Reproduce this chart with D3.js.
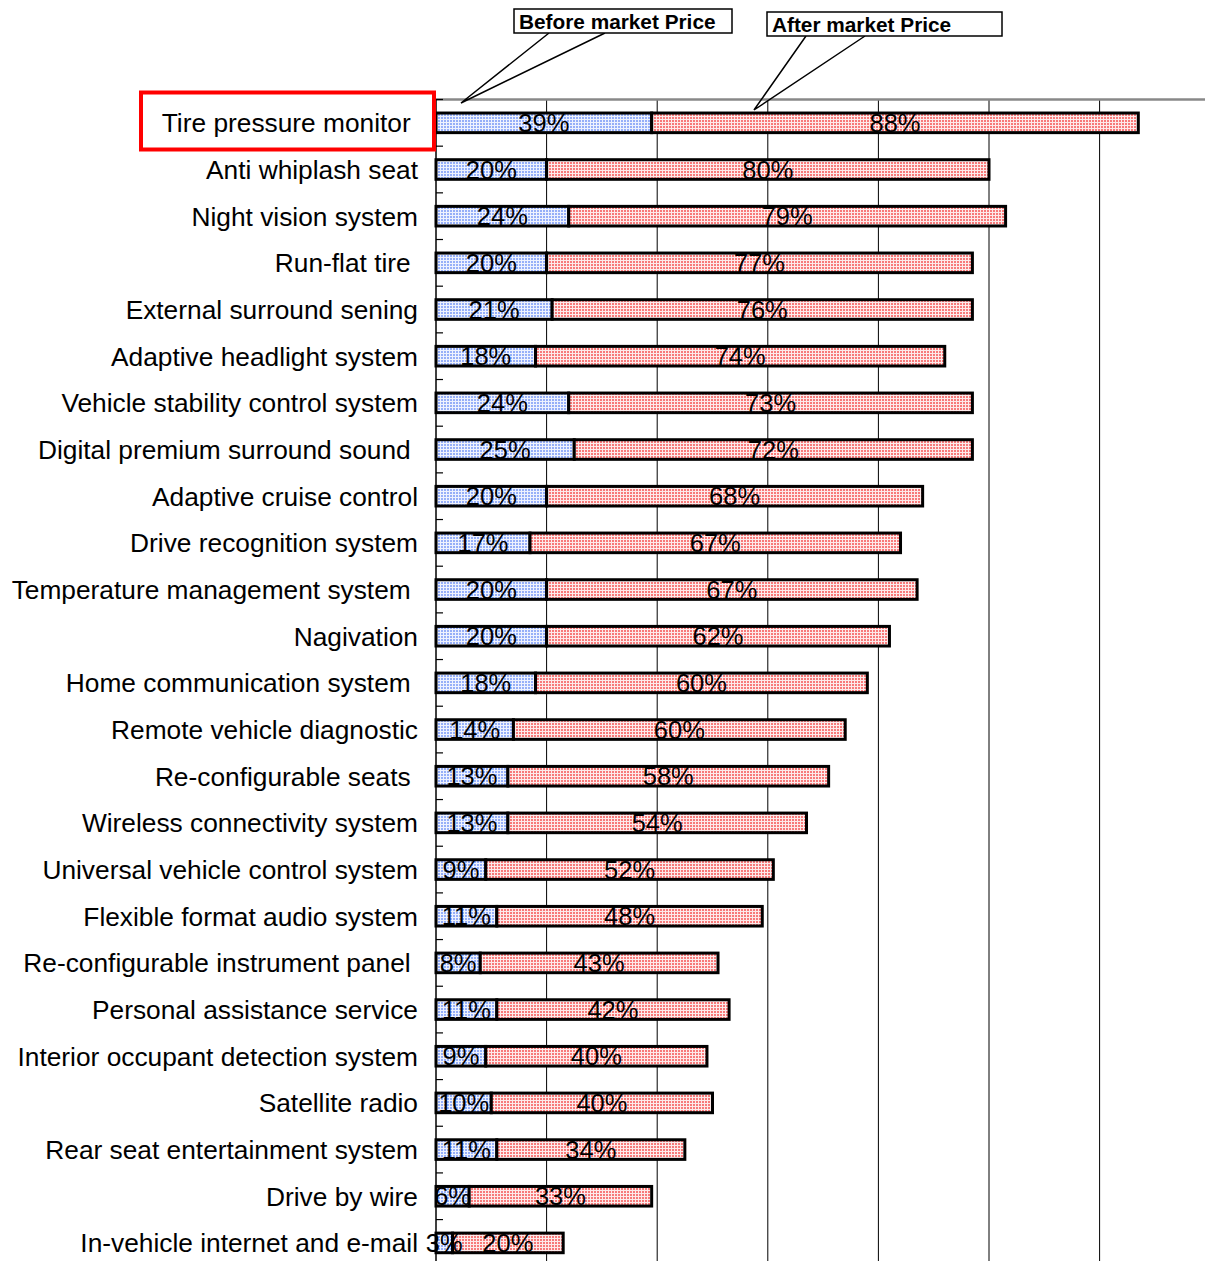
<!DOCTYPE html>
<html>
<head>
<meta charset="utf-8">
<script src="https://cdn.jsdelivr.net/npm/d3@7"></script>
<style>
  html, body { margin: 0; padding: 0; background: #fff; }
  #chart { width: 1205px; height: 1261px; overflow: hidden; }
  text { font-family: Arial, "Liberation Sans", sans-serif; }
</style>
</head>
<body>
<div id="chart"></div>
<script>
const categories = [
  'Tire pressure monitor ', 'Anti whiplash seat', 'Night vision system', 'Run-flat tire ',
  'External surround sening', 'Adaptive headlight system', 'Vehicle stability control system',
  'Digital premium surround sound ', 'Adaptive cruise control', 'Drive recognition system',
  'Temperature management system ', 'Nagivation', 'Home communication system ',
  'Remote vehicle diagnostic', 'Re-configurable seats ', 'Wireless connectivity system',
  'Universal vehicle control system', 'Flexible format audio system',
  'Re-configurable instrument panel ', 'Personal assistance service',
  'Interior occupant detection system', 'Satellite radio', 'Rear seat entertainment system',
  'Drive by wire', 'In-vehicle internet and e-mail'
];
const beforePrice = [39, 20, 24, 20, 21, 18, 24, 25, 20, 17, 20, 20, 18, 14, 13, 13, 9, 11, 8, 11, 9, 10, 11, 6, 3];
const afterPrice  = [88, 80, 79, 77, 76, 74, 73, 72, 68, 67, 67, 62, 60, 60, 58, 54, 52, 48, 43, 42, 40, 40, 34, 33, 20];
const gridTicks = [20, 40, 60, 80, 100, 120, 140];
const seriesNames = ['Before market Price', 'After market Price'];

const chart = {};

chart.create = function(config){
  this.config = config;
  this.config.margin = {top: 99.5, left: 436};
  this.config.width_svg = 1205;
  this.config.height_svg = 1261;
  this.config.rowStep = 46.67;
  this.config.colorRule = {
    before: {bg: '#eef2fe', dot: '#96aff8'},
    after:  {bg: '#fdeaea', dot: '#f77a7a'}
  };
  this.config.svg = d3.select(`#${this.config.target}`)
                      .append('svg')
                      .attr('width', this.config.width_svg)
                      .attr('height', this.config.height_svg);
  this.update();
}

chart.update = function(){
  let margin = this.config.margin,
      width_svg = this.config.width_svg,
      height_svg = this.config.height_svg,
      colorRule = this.config.colorRule,
      svg = this.config.svg;

  // dotted fills, like the old office chart
  let defs = svg.append('defs');
  Object.keys(colorRule).forEach(k => {
    let p = defs.append('pattern')
                .attr('id', `pat_${k}`)
                .attr('width', 3).attr('height', 3)
                .attr('patternUnits', 'userSpaceOnUse');
    p.append('rect').attr('width', 3).attr('height', 3).attr('fill', colorRule[k].bg);
    p.append('rect').attr('width', 2).attr('height', 2)
     .attr('shape-rendering', 'crispEdges').attr('fill', colorRule[k].dot);
  });

  let xScale = d3.scaleLinear()
                .domain([0, 140])
                .range([margin.left, margin.left + 140 * 5.53]);
  let yScale = d3.scaleBand()
                .domain(categories)
                .range([margin.top, margin.top + categories.length * this.config.rowStep])
                .paddingInner(0.58)
                .paddingOuter(0.29);

  // grid lines
  svg.append('g')
    .attr('id', 'g_grid')
    .selectAll('line')
    .data(gridTicks)
    .enter().append('line')
      .attr('x1', d => xScale(d)).attr('x2', d => xScale(d))
      .attr('y1', margin.top).attr('y2', height_svg)
      .attr('stroke', '#000').attr('stroke-width', 1);

  // top line
  svg.append('line')
    .attr('x1', margin.left).attr('x2', width_svg + 10)
    .attr('y1', margin.top).attr('y2', margin.top)
    .attr('stroke', '#888').attr('stroke-width', 2.5);

  let rows = categories.map((c, i) => ({name: c, before: beforePrice[i], after: afterPrice[i]}));

  let bars = svg.append('g').attr('id', 'g_bars');
  bars.selectAll('rect.before')
    .data(rows)
    .enter().append('rect')
      .attr('class', 'before')
      .attr('x', xScale(0))
      .attr('y', d => yScale(d.name))
      .attr('width', d => xScale(d.before) - xScale(0))
      .attr('height', yScale.bandwidth())
      .attr('fill', 'url(#pat_before)')
      .attr('stroke', '#000').attr('stroke-width', 3);
  bars.selectAll('rect.after')
    .data(rows)
    .enter().append('rect')
      .attr('class', 'after')
      .attr('x', d => xScale(d.before))
      .attr('y', d => yScale(d.name))
      .attr('width', d => xScale(d.before + d.after) - xScale(d.before))
      .attr('height', yScale.bandwidth())
      .attr('fill', 'url(#pat_after)')
      .attr('stroke', '#000').attr('stroke-width', 3);

  // y axis
  let yAxis = g => g.attr('transform', `translate(${margin.left}, 0)`)
                  .call(g => g.append('line')
                              .attr('y1', margin.top).attr('y2', height_svg)
                              .attr('stroke', '#000').attr('stroke-width', 1.5))
                  .call(g => g.selectAll('line.tick')
                              .data(d3.range(categories.length + 1))
                              .enter().append('line')
                              .attr('class', 'tick')
                              .attr('x1', 0).attr('x2', 7)
                              .attr('y1', i => margin.top + i * this.config.rowStep)
                              .attr('y2', i => margin.top + i * this.config.rowStep)
                              .attr('stroke', '#000').attr('stroke-width', 1.2))
                  .call(g => g.selectAll('text')
                              .data(categories)
                              .enter().append('text')
                              .attr('x', -18)
                              .attr('y', d => yScale(d) + yScale.bandwidth() / 2)
                              .attr('dy', '0.36em')
                              .attr('text-anchor', 'end')
                              .attr('font-size', 26.3)
                              .style('white-space', 'pre')
                              .text(d => d));
  svg.append('g').attr('id', 'g_yAxis').call(yAxis);

  // value labels
  let labels = svg.append('g').attr('id', 'g_labels')
                  .attr('font-size', 25.5).attr('text-anchor', 'middle').attr('fill', '#000');
  labels.selectAll('text.before')
    .data(rows)
    .enter().append('text')
      .attr('x', d => (xScale(0) + xScale(d.before)) / 2)
      .attr('y', d => yScale(d.name) + yScale.bandwidth() / 2)
      .attr('dy', '0.36em')
      .text(d => `${d.before}%`);
  labels.selectAll('text.after')
    .data(rows)
    .enter().append('text')
      .attr('x', d => (xScale(d.before) + xScale(d.before + d.after)) / 2)
      .attr('y', d => yScale(d.name) + yScale.bandwidth() / 2)
      .attr('dy', '0.36em')
      .text(d => `${d.after}%`);

  // red highlight round the first row
  svg.append('rect')
    .attr('x', 141).attr('y', 92.5)
    .attr('width', margin.left - 143).attr('height', 57)
    .attr('fill', 'none').attr('stroke', '#ff0000').attr('stroke-width', 4);

  // callouts
  let callouts = [
    {text: seriesNames[0], box: [514, 9, 218, 24], from: [[549, 33], [605, 33]], to: [461, 103]},
    {text: seriesNames[1], box: [767, 12, 235, 24], from: [[806, 36], [865, 36]], to: [754, 110]}
  ];
  let cg = svg.append('g').attr('id', 'g_callouts');
  callouts.forEach((c, i) => {
    defs.append('clipPath').attr('id', `clip_call_${i}`)
        .append('rect')
        .attr('x', c.box[0]).attr('y', c.box[1])
        .attr('width', c.box[2] - 14).attr('height', c.box[3]);
    cg.append('path')
      .attr('d', `M${c.from[0]}L${c.to}L${c.from[1]}`)
      .attr('fill', 'none').attr('stroke', '#000').attr('stroke-width', 1.5);
    cg.append('rect')
      .attr('x', c.box[0]).attr('y', c.box[1])
      .attr('width', c.box[2]).attr('height', c.box[3])
      .attr('fill', '#fff').attr('stroke', '#000').attr('stroke-width', 1.5);
    cg.append('text')
      .attr('x', c.box[0] + 5).attr('y', c.box[1] + 20)
      .attr('font-size', 20.8).attr('font-weight', 'bold')
      .attr('clip-path', `url(#clip_call_${i})`)
      .text(c.text);
  });
}

chart.create({target: 'chart'});
</script>
</body>
</html>
